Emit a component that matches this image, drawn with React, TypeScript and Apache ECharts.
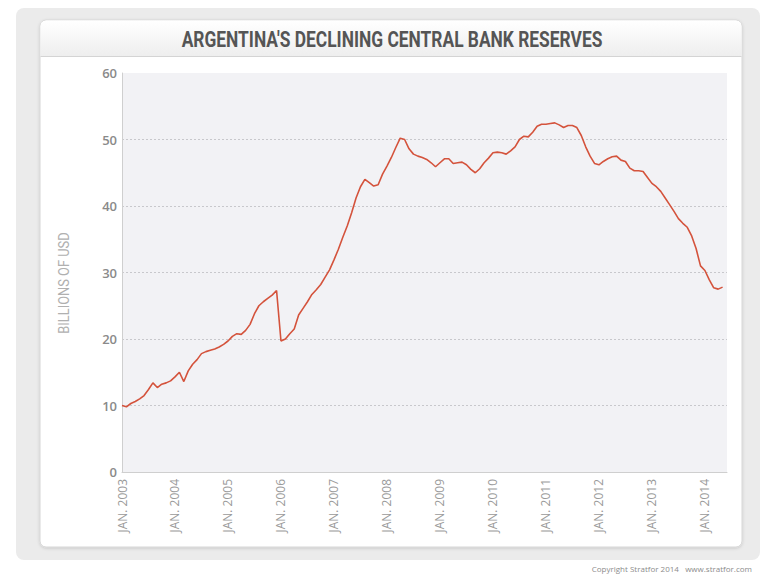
import React, { useEffect, useRef } from "react";
import * as echarts from "echarts";

const TITLE = "ARGENTINA'S DECLINING CENTRAL BANK RESERVES";
const Y_AXIS_NAME = "BILLIONS OF USD";
const COPYRIGHT = "Copyright Stratfor 2014   www.stratfor.com";

const MONTHS = ["JAN", "FEB", "MAR", "APR", "MAY", "JUN", "JUL", "AUG", "SEP", "OCT", "NOV", "DEC"];
const YEARS = [2003, 2004, 2005, 2006, 2007, 2008, 2009, 2010, 2011, 2012, 2013, 2014];

// Monthly reserves, billions of USD
const r2003 = [10.0, 9.8, 10.3, 10.6, 11.0, 11.5, 12.4, 13.4, 12.7, 13.2, 13.4, 13.7];
const r2004 = [14.3, 15.0, 13.6, 15.2, 16.2, 16.9, 17.8, 18.1, 18.3, 18.5, 18.8, 19.2];
const r2005 = [19.7, 20.4, 20.8, 20.7, 21.3, 22.2, 23.8, 25.0, 25.6, 26.1, 26.6, 27.3];
const r2006 = [19.7, 20.0, 20.8, 21.5, 23.6, 24.6, 25.6, 26.7, 27.4, 28.2, 29.3, 30.4];
const r2007 = [31.9, 33.5, 35.3, 37.0, 39.0, 41.2, 42.9, 44.0, 43.5, 43.0, 43.2, 44.8];
const r2008 = [46.0, 47.3, 48.8, 50.2, 50.0, 48.6, 47.8, 47.5, 47.3, 47.0, 46.5, 45.9];
const r2009 = [46.5, 47.1, 47.1, 46.4, 46.5, 46.6, 46.2, 45.5, 45.0, 45.6, 46.5, 47.2];
const r2010 = [48.0, 48.1, 48.0, 47.8, 48.3, 48.9, 50.0, 50.5, 50.4, 51.1, 52.0, 52.3];
const r2011 = [52.3, 52.4, 52.5, 52.2, 51.8, 52.1, 52.1, 51.8, 50.6, 48.9, 47.5, 46.4];
const r2012 = [46.2, 46.7, 47.1, 47.4, 47.5, 46.9, 46.7, 45.7, 45.3, 45.3, 45.2, 44.3];
const r2013 = [43.4, 42.9, 42.2, 41.2, 40.2, 39.2, 38.1, 37.4, 36.8, 35.5, 33.6, 31.0];
const r2014 = [30.3, 28.9, 27.7, 27.5, 27.8];

const Y_TICKS = [0, 10, 20, 30, 40, 50, 60];

const SERIES = [r2003, r2004, r2005, r2006, r2007, r2008, r2009, r2010, r2011, r2012, r2013, r2014];

export default function App() {
  const ref = useRef<HTMLDivElement>(null);

  useEffect(() => {
    document.body.style.margin = "0";
    if (!ref.current) return;
    const chart = echarts.init(ref.current, null, { renderer: "svg" });

    const categories: string[] = [];
    const values: (number | null)[] = [];
    SERIES.forEach((arr, yi) => {
      arr.forEach((v, mi) => {
        categories.push(`${MONTHS[mi]}. ${YEARS[yi]}`);
        values.push(v);
      });
    });
    // one empty trailing month so the line stops just short of the edge
    categories.push("JUN. 2014");
    values.push(null);

    const splitColors = Y_TICKS.map((t, i) =>
      i === 0 || i === Y_TICKS.length - 1 ? "rgba(0,0,0,0)" : "#c8c8cc"
    );

    chart.setOption({
      animation: false,
      backgroundColor: "#ffffff",
      graphic: [
        {
          type: "rect",
          z: -100,
          shape: { x: 16, y: 8, width: 744, height: 552, r: 8 },
          style: { fill: "#ebebeb" },
        },
        {
          type: "rect",
          z: -99,
          shape: { x: 40, y: 20, width: 702, height: 527, r: 6 },
          style: {
            fill: "#ffffff",
            stroke: "#d6d6d6",
            lineWidth: 1,
            shadowBlur: 3,
            shadowColor: "rgba(0,0,0,0.15)",
            shadowOffsetY: 1,
          },
        },
        {
          type: "rect",
          z: -98,
          shape: { x: 40.5, y: 20.5, width: 701, height: 36, r: [6, 6, 0, 0] },
          style: {
            fill: new echarts.graphic.LinearGradient(0, 0, 0, 1, [
              { offset: 0, color: "#ffffff" },
              { offset: 1, color: "#eeeeee" },
            ]),
          },
        },
        {
          type: "line",
          z: -97,
          shape: { x1: 40.5, y1: 56.5, x2: 741.5, y2: 56.5 },
          style: { stroke: "#d4d4d4", lineWidth: 1 },
        },
        {
          type: "text",
          z: 10,
          x: 392,
          y: 40,
          scaleX: 0.79,
          style: {
            text: TITLE,
            fontFamily: "Roboto",
            fontWeight: "bold",
            fontSize: 22,
            fill: "#555555",
            align: "center",
            verticalAlign: "middle",
          },
        },
        {
          type: "text",
          z: 10,
          x: 64,
          y: 283,
          rotation: Math.PI / 2,
          scaleX: 0.92,
          style: {
            text: Y_AXIS_NAME,
            fontFamily: "Roboto",
            fontSize: 14,
            fill: "#b0b0b0",
            align: "center",
            verticalAlign: "middle",
          },
        },
        {
          type: "text",
          z: 10,
          x: 752,
          y: 568,
          style: {
            text: COPYRIGHT,
            fontFamily: "Open Sans",
            fontSize: 8,
            fill: "#8c8c8c",
            align: "right",
            verticalAlign: "middle",
          },
        },
      ],
      grid: {
        left: 122,
        top: 73,
        right: 57,
        bottom: 105,
        show: true,
        backgroundColor: "#f2f2f5",
        borderWidth: 0,
      },
      xAxis: {
        type: "category",
        data: categories,
        boundaryGap: false,
        axisLine: { show: true, lineStyle: { color: "#cfcfcf", width: 1 } },
        axisTick: { show: false },
        splitLine: { show: false },
        axisLabel: {
          interval: (index: number) => index % 12 === 0,
          rotate: 90,
          margin: 7,
          color: "#9a9a9a",
          fontFamily: "Open Sans",
          fontSize: 12,
        },
      },
      yAxis: {
        type: "value",
        min: 0,
        max: 60,
        interval: 10,
        axisLine: { show: true, lineStyle: { color: "#cfcfcf", width: 1 } },
        axisTick: { show: false },
        axisLabel: {
          margin: 5,
          color: "#8a8a8a",
          fontFamily: "Open Sans",
          fontSize: 13,
          fontWeight: 600,
        },
        splitLine: {
          show: true,
          lineStyle: { color: splitColors, type: [2, 2], width: 1 },
        },
      },
      series: [
        {
          type: "line",
          data: values,
          showSymbol: false,
          symbol: "none",
          lineStyle: { color: "#d4533c", width: 1.6 },
          connectNulls: false,
        },
      ],
    });

    return () => {
      chart.dispose();
    };
  }, []);

  return (
    <div
      ref={ref}
      style={{ position: "fixed", left: 0, top: 0, width: 784, height: 577 }}
    />
  );
}
